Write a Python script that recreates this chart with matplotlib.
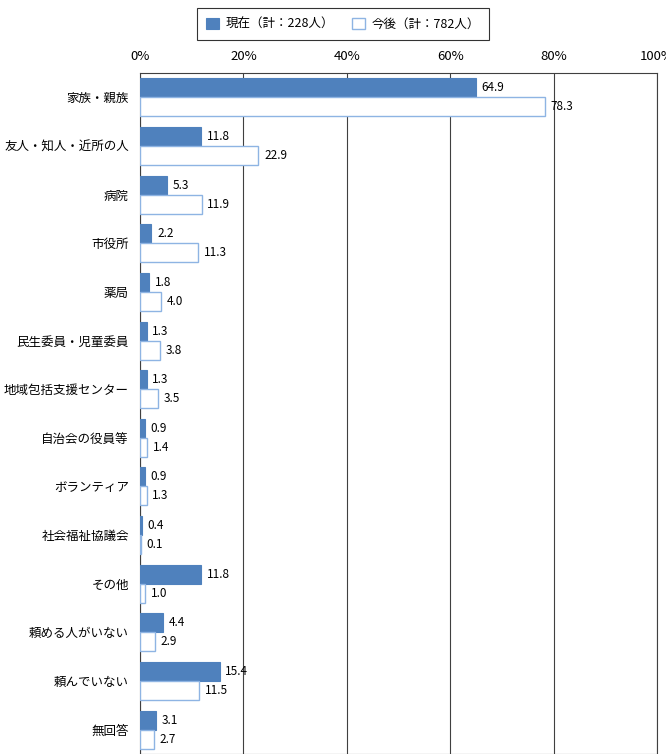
import numpy as np
import matplotlib
matplotlib.use("Agg")
import matplotlib.pyplot as plt

plt.rcParams['font.family'] = ['Noto Sans CJK JP', 'DejaVu Sans']

categories = [
    "家族・親族", "友人・知人・近所の人", "病院", "市役所", "薬局",
    "民生委員・児童委員", "地域包括支援センター", "自治会の役員等",
    "ボランティア", "社会福祉協議会", "その他", "頼める人がいない",
    "頼んでいない", "無回答",
]
current = [64.9, 11.8, 5.3, 2.2, 1.8, 1.3, 1.3, 0.9, 0.9, 0.4, 11.8, 4.4, 15.4, 3.1]
future = [78.3, 22.9, 11.9, 11.3, 4.0, 3.8, 3.5, 1.4, 1.3, 0.1, 1.0, 2.9, 11.5, 2.7]
series_labels = ["現在（計：228人）", "今後（計：782人）"]

fig = plt.figure(figsize=(6.66, 7.54), dpi=100)
ax = fig.add_axes([140 / 666, 0.0, 517 / 666, (754 - 73) / 754])

y = np.arange(len(categories))
h = 0.39
ax.barh(y - h / 2, current, height=h, color="#4F81BD", edgecolor="#4F81BD",
        linewidth=0.8, label=series_labels[0], zorder=3)
ax.barh(y + h / 2, future, height=h, color="white", edgecolor="#8EB4E3",
        linewidth=1.0, label=series_labels[1], zorder=3)

for i, (c, f) in enumerate(zip(current, future)):
    ax.text(c + 1.1, i - h / 2, f"{c:.1f}", va="center", ha="left", fontsize=8.5, zorder=4)
    ax.text(f + 1.1, i + h / 2, f"{f:.1f}", va="center", ha="left", fontsize=8.5, zorder=4)

ax.set_xlim(0, 100)
ax.set_ylim(len(categories) - 0.5, -0.5)
ax.set_yticks(y)
ax.set_yticklabels(categories, fontsize=9)
ax.set_xticks(np.arange(0, 101, 20))
ax.set_xticklabels([f"{v}%" for v in range(0, 101, 20)], fontsize=9.5)
ax.xaxis.tick_top()
ax.tick_params(axis="x", length=0, pad=7)
ax.tick_params(axis="y", length=0, pad=8)
ax.grid(axis="x", color="#404040", linewidth=0.8, zorder=0)
for s in ax.spines.values():
    s.set_color("#404040")
    s.set_linewidth(0.8)

leg = fig.legend(loc="upper center", bbox_to_anchor=(343 / 666, 1 - 8 / 754), ncol=2,
                 fontsize=9, frameon=True, fancybox=False, edgecolor="black",
                 handlelength=1.0, handleheight=1.0, handletextpad=0.5,
                 columnspacing=1.5, borderpad=0.75, borderaxespad=0)
leg.get_frame().set_linewidth(0.8)

fig.savefig("out.png", dpi=100)
